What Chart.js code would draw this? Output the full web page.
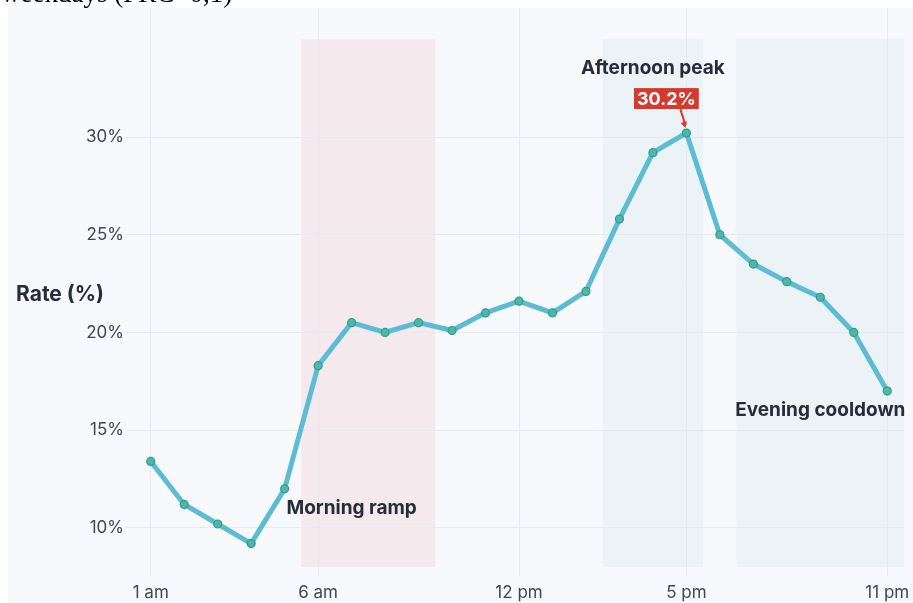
<!DOCTYPE html>
<html>
<head>
<meta charset="utf-8">
<script src="https://cdn.jsdelivr.net/npm/chart.js@4/dist/chart.umd.min.js"></script>
<style>
  html, body { margin: 0; padding: 0; background: #ffffff; overflow: hidden; }
  #wrap { position: relative; width: 913px; height: 603px; }
  #cv { position: absolute; left: 0; top: 0; }
  #caption {
    position: absolute; left: 1px; top: -20px; margin: 0;
    font-family: "Liberation Serif", "DejaVu Serif", serif; font-size: 27px; line-height: 27px;
    color: #000; white-space: nowrap; z-index: 2;
  }
</style>
</head>
<body>
<div id="wrap">
  <div id="caption">weekdays (PRC=0,1)</div>
  <canvas id="cv" width="913" height="603"></canvas>
</div>
<script>
// Hour of day (1 = 1 am ... 23 = 11 pm) and hourly rate in percent
const hours = [1, 2, 3, 4, 5, 6, 7, 8, 9, 10, 11, 12, 13, 14, 15, 16, 17, 18, 19, 20, 21, 22, 23];
const rates = [13.4, 11.2, 10.2, 9.2, 12.0, 18.3, 20.5, 20.0, 20.5, 20.1, 21.0, 21.6, 21.0, 22.1, 25.8, 29.2, 30.2, 25.0, 23.5, 22.6, 21.8, 20.0, 17.0];

// Axis ticks
const xTickHours = [1, 6, 12, 17, 23];
const yTickValues = [10, 15, 20, 25, 30];

// Shaded periods of the day (in hours)
const periodNames = ['Morning ramp', 'Afternoon peak', 'Evening cooldown'];
const periodStart = [5.5, 14.5, 18.5];
const periodEnd = [9.5, 17.5, 23.5];

function hourLabel(h) {
  if (h === 0 || h === 24) return '12 am';
  if (h === 12) return '12 pm';
  return h < 12 ? h + ' am' : (h - 12) + ' pm';
}

const INK = '#252d3a';
const FONT = 'Inter, "Noto Sans", sans-serif';

const periodsPlugin = {
  id: 'periods',
  beforeDraw(chart, args, opts) {
    const { ctx, scales } = chart;
    ctx.save();
    // panel background
    ctx.fillStyle = '#f7f9fc';
    ctx.fillRect(8, 8, chart.width - 8, chart.height - 8);
    // shaded periods
    periodNames.forEach((name, i) => {
      const x0 = scales.x.getPixelForValue(periodStart[i]);
      const x1 = scales.x.getPixelForValue(periodEnd[i]);
      const y0 = scales.y.getPixelForValue(opts.bandTop);
      const y1 = scales.y.getPixelForValue(opts.bandBottom);
      ctx.fillStyle = opts.colors[i];
      ctx.fillRect(x0, y0, x1 - x0, y1 - y0);
    });
    ctx.restore();
  },
  afterDatasetsDraw(chart, args, opts) {
    const { ctx, scales } = chart;
    ctx.save();
    ctx.font = 'bold 19px ' + FONT;
    ctx.fillStyle = INK;
    ctx.textAlign = 'center';
    ctx.textBaseline = 'middle';
    periodNames.forEach((name, i) => {
      const at = opts.labelAt[i];
      ctx.fillText(name, scales.x.getPixelForValue(at[0]), scales.y.getPixelForValue(at[1]));
    });

    // peak callout
    let pi = 0;
    rates.forEach((v, i) => { if (v > rates[pi]) pi = i; });
    const px = scales.x.getPixelForValue(hours[pi]);
    const py = scales.y.getPixelForValue(rates[pi]);
    const txt = rates[pi].toFixed(1) + '%';
    ctx.font = 'bold 18px ' + FONT;
    const tw = ctx.measureText(txt).width;
    const bw = tw + 6, bh = 21;
    const bx = px - 20 - bw / 2, by = py - 45;
    ctx.fillStyle = '#d8392f';
    ctx.fillRect(bx, by, bw, bh);
    ctx.fillStyle = '#ffffff';
    ctx.fillText(txt, bx + bw / 2, by + bh / 2 + 1);
    // arrow
    const ax0 = px - 6, ay0 = by + bh, ax1 = px - 1, ay1 = py - 5;
    ctx.strokeStyle = '#d8392f';
    ctx.lineWidth = 2;
    ctx.beginPath();
    ctx.moveTo(ax0, ay0);
    ctx.lineTo(ax1, ay1 - 3);
    ctx.stroke();
    const ang = Math.atan2(ay1 - ay0, ax1 - ax0);
    ctx.fillStyle = '#d8392f';
    ctx.beginPath();
    ctx.moveTo(ax1, ay1);
    ctx.lineTo(ax1 - 7 * Math.cos(ang - 0.5), ay1 - 7 * Math.sin(ang - 0.5));
    ctx.lineTo(ax1 - 7 * Math.cos(ang + 0.5), ay1 - 7 * Math.sin(ang + 0.5));
    ctx.closePath();
    ctx.fill();
    ctx.restore();
  },
  afterDraw(chart) {
    const { ctx, chartArea } = chart;
    ctx.save();
    ctx.font = 'bold 21px ' + FONT;
    ctx.fillStyle = INK;
    ctx.textAlign = 'left';
    ctx.textBaseline = 'middle';
    ctx.fillText('Rate (%)', 16, (chartArea.top + chartArea.bottom) / 2 + 7);
    ctx.restore();
  }
};

new Chart(document.getElementById('cv'), {
  type: 'line',
  data: {
    datasets: [{
      data: hours.map((h, i) => ({ x: h, y: rates[i] })),
      borderColor: '#5cbcd6',
      borderWidth: 5,
      pointRadius: 4,
      pointBackgroundColor: '#4db8aa',
      pointBorderColor: '#2f9c86',
      pointBorderWidth: 1.2,
      tension: 0,
      fill: false
    }]
  },
  options: {
    responsive: false,
    animation: false,
    devicePixelRatio: 1,
    layout: { padding: { top: 8, right: 9, bottom: 0, left: 0 } },
    plugins: {
      legend: { display: false },
      tooltip: { enabled: false },
      periods: {
        bandTop: 35,
        bandBottom: 8,
        colors: ['rgba(240,212,216,0.42)', 'rgba(222,236,240,0.45)', 'rgba(222,236,240,0.45)'],
        labelAt: [[7, 11.0], [16, 33.5], [21, 16.0]]
      }
    },
    scales: {
      x: {
        type: 'linear',
        min: 0.5,
        max: 23.5,
        afterBuildTicks(scale) { scale.ticks = xTickHours.map(v => ({ value: v })); },
        afterFit(scale) {
          scale.height = 36;
          scale.paddingLeft = 0;
          scale.paddingRight = 0;
        },
        ticks: {
          autoSkip: false,
          maxRotation: 0,
          padding: 7,
          color: '#3f4653',
          font: { family: FONT, size: 17 },
          callback: v => hourLabel(v)
        },
        grid: { color: '#e6eaf0', lineWidth: 1, tickLength: 9, drawTicks: true },
        border: { display: false }
      },
      y: {
        min: 8,
        max: 36.6,
        afterBuildTicks(scale) { scale.ticks = yTickValues.map(v => ({ value: v })); },
        afterFit(scale) {
          scale.width = 134;
          scale.paddingTop = 0;
          scale.paddingBottom = 0;
        },
        ticks: {
          padding: 1,
          color: '#3f4653',
          font: { family: FONT, size: 17 },
          callback: v => v + '%'
        },
        grid: { color: '#e6eaf0', lineWidth: 1, tickLength: 9 },
        border: { display: false }
      }
    }
  },
  plugins: [periodsPlugin]
});
</script>
</body>
</html>
